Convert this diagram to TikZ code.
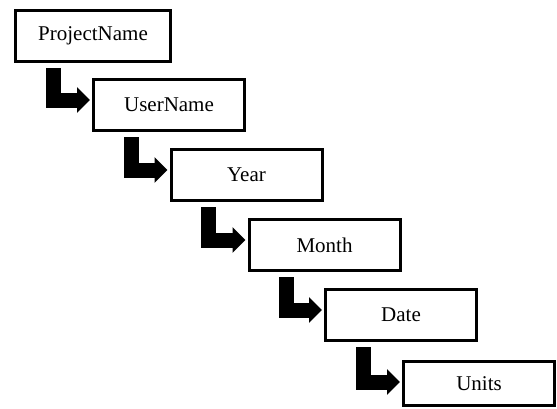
\documentclass[tikz,border=0pt]{standalone}
\usepackage{fontspec}
\setmainfont{Liberation Serif}
\usetikzlibrary{arrows.meta, positioning}

\begin{document}
\begin{tikzpicture}[
    x=1pt, y=-1pt,
    level/.style={rectangle, draw, line width=3pt, minimum width=151pt, minimum height=51pt, inner sep=0pt, font=\fontsize{21}{25}\selectfont},
    drop/.style={line width=15pt, line join=miter, -{Triangle[length=13pt, width=25pt]}},
]
\useasboundingbox (0,0) rectangle (557,408);

% Define folder levels (nodes)
\node[level, minimum width=155pt] (project) at (93,36) {ProjectName};
\node[level] (user) at (169,105) {UserName};
\node[level] (year) at (246.5,175) {Year};
\node[level] (month) at (324.5,245) {Month};
\node[level] (date) at (401,315) {Date};
\node[level, minimum height=44pt] (units) at (479,383.5) {Units};

% Elbow arrows between levels
\draw[drop] ([xshift=39pt, yshift=-5pt]project.south west) |- ([xshift=-2pt, yshift=-22pt]user.north west);
\draw[drop] ([xshift=39pt, yshift=-5pt]user.south west) |- ([xshift=-2pt, yshift=-22pt]year.north west);
\draw[drop] ([xshift=39pt, yshift=-5pt]year.south west) |- ([xshift=-2pt, yshift=-22pt]month.north west);
\draw[drop] ([xshift=39pt, yshift=-5pt]month.south west) |- ([xshift=-2pt, yshift=-22pt]date.north west);
\draw[drop] ([xshift=39pt, yshift=-5pt]date.south west) |- ([xshift=-2pt, yshift=-22pt]units.north west);

\end{tikzpicture}
\end{document}
